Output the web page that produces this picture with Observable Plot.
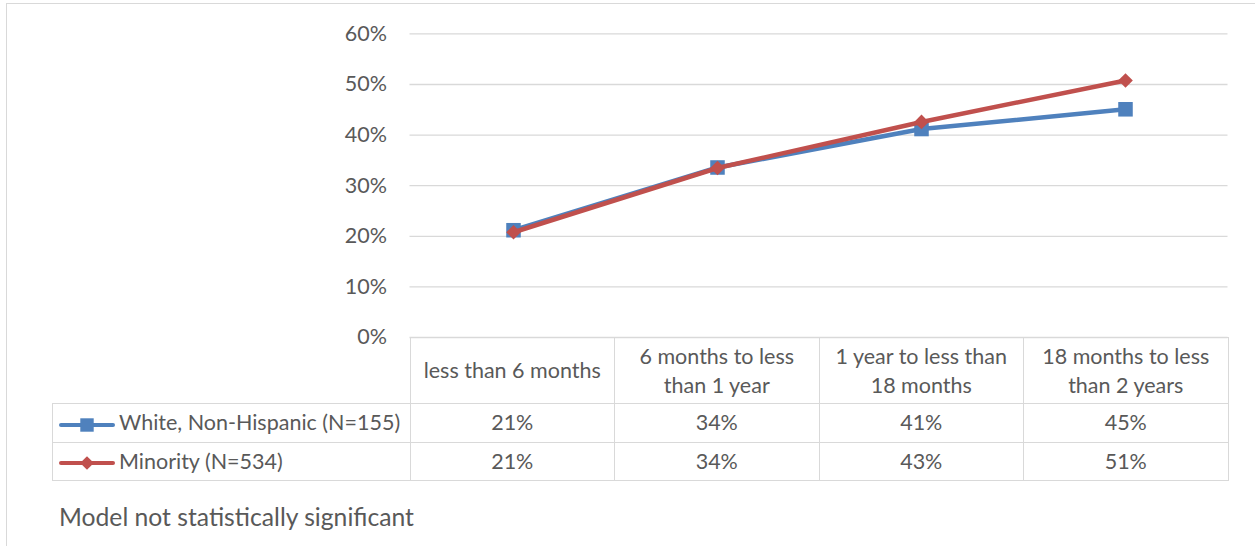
<!DOCTYPE html>
<html><head><meta charset="utf-8">
<script src="https://cdn.jsdelivr.net/npm/d3@7"></script>
<script src="https://cdn.jsdelivr.net/npm/@observablehq/plot@0.6"></script>
<style>
html,body{margin:0;padding:0;background:#fff;overflow:hidden}
#wrap{position:relative;width:1255px;height:546px;overflow:hidden;font-family:Lato,"Open Sans",sans-serif;color:#595959}
#frame{position:absolute;left:6px;top:3px;width:1300px;height:600px;border:1.3px solid #d9d9d9;box-sizing:border-box}
#chart{position:absolute;left:0;top:0}
#tbl{position:absolute;left:52px;top:337px;border-collapse:collapse;table-layout:fixed;font-size:21.5px}
#tbl td{border:1.3px solid #d9d9d9;padding:0;text-align:center;line-height:29px;white-space:pre-line}
#tbl td.blank{border-top:none;border-left:none}
#tbl td.leg{text-align:left;padding-left:5px;white-space:nowrap}
#tbl td.leg svg{vertical-align:middle;margin-right:3px}
#caption{position:absolute;left:59px;top:502px;font-size:24.7px;line-height:30px}
</style></head>
<body><div id="wrap"><div id="frame"></div><div id="chart"></div><table id="tbl"></table><div id="caption"></div></div>
<script>
const categories = ["less than 6 months", "6 months to less than 1 year", "1 year to less than 18 months", "18 months to less than 2 years"];
const categoryLabels = ["less than 6 months", "6 months to less\nthan 1 year", "1 year to less than\n18 months", "18 months to less\nthan 2 years"];
const seriesNames = ["White, Non-Hispanic (N=155)", "Minority (N=534)"];
const whiteValues = [21.2, 33.6, 41.2, 45.1];
const minorityValues = [20.8, 33.5, 42.6, 50.8];
const yTicks = [0, 10, 20, 30, 40, 50, 60];
const seriesColors = ["#4F81BD", "#C0504D"];
const seriesSymbols = ["square", "diamond2"];
const captionText = "Model not statistically significant";

const seriesValues = [whiteValues, minorityValues];
const data = seriesNames.flatMap((s, i) => categories.map((c, j) => ({series: s, cat: c, value: seriesValues[i][j]})));

const marks = [
  Plot.gridY(yTicks, {stroke: "#d9d9d9", strokeOpacity: 1, strokeWidth: 1.3}),
  Plot.axisY(yTicks, {tickSize: 0, tickPadding: 23, tickFormat: d => d + "%", fontSize: 21.5, fill: "#595959", label: null})
];
seriesNames.forEach((s, i) => {
  const d = data.filter(r => r.series === s);
  marks.push(Plot.line(d, {x: "cat", y: "value", stroke: seriesColors[i], strokeWidth: 4.5, strokeLinejoin: "round", strokeLinecap: "round"}));
  marks.push(Plot.dot(d, {x: "cat", y: "value", symbol: seriesSymbols[i], r: i === 0 ? 8.2 : 6.6, fill: seriesColors[i], stroke: "none"}));
});

const chart = Plot.plot({
  width: 1255,
  height: 362,
  marginLeft: 409.5,
  marginRight: 27.5,
  marginTop: 33.4,
  marginBottom: 25,
  style: {fontFamily: "Lato, 'Open Sans', sans-serif", background: "transparent", color: "#595959", overflow: "visible"},
  x: {type: "point", domain: categories, padding: 0.5, axis: null},
  y: {domain: [0, 60], axis: null},
  marks
});
document.getElementById("chart").appendChild(chart);

// data table below the plot
const tbl = d3.select("#tbl");
const cg = tbl.append("colgroup");
cg.append("col").style("width", "357.5px");
categories.forEach(() => cg.append("col").style("width", "204.5px"));
const hdr = tbl.append("tr").style("height", "66px");
hdr.append("td").attr("class", "blank");
categoryLabels.forEach(l => hdr.append("td").text(l));
seriesNames.forEach((s, i) => {
  const tr = tbl.append("tr").style("height", "38.5px");
  const td = tr.append("td").attr("class", "leg");
  const svg = td.append("svg").attr("width", 58).attr("height", 18);
  svg.append("line").attr("x1", 3).attr("x2", 55).attr("y1", 9).attr("y2", 9)
    .attr("stroke", seriesColors[i]).attr("stroke-width", 4).attr("stroke-linecap", "round");
  svg.append("path").attr("transform", "translate(29,9)")
    .attr("d", d3.symbol(i === 0 ? d3.symbolSquare : d3.symbolDiamond2, i === 0 ? 180 : 120)())
    .attr("fill", seriesColors[i]);
  td.append("span").text(s);
  seriesValues[i].forEach(v => tr.append("td").text(Math.round(v) + "%"));
});
document.getElementById("caption").textContent = captionText;
</script></body></html>
